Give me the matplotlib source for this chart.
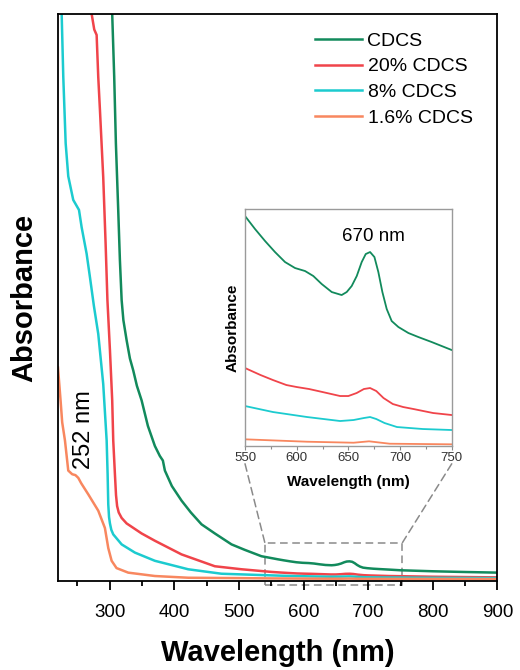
import numpy as np
import matplotlib
matplotlib.use("Agg")
from matplotlib import pyplot as plt
from matplotlib.patches import Rectangle, ConnectionPatch

plt.rcParams['font.family'] = ['Liberation Sans', 'DejaVu Sans']

# absorbance (arbitrary units)
cdcs_wl = [301, 303.9, 307, 309.6, 313.2, 315.8, 318.5, 321.2, 326.2, 331.3, 336.4, 342.1, 349.4, 359.1,
           369.9, 377.6, 382.3, 385.4, 396.2, 411.2, 425.6, 442.1, 462.7, 488.5, 509, 534.8,
           550, 559.7, 569.4, 579, 588.7, 598.4, 608.1, 616.1, 624.2, 633.9, 643.5, 648.4, 653.2, 658.1,
           662.9, 666.8, 671, 675.2, 679, 682.9, 687.1, 691.9, 698.4, 708.1, 717.7, 730.6, 740.3, 750,
           800, 850, 900]
cdcs_abs = [7.0, 6.20, 5.51, 4.78, 4.05, 3.50, 3.06, 2.84, 2.62, 2.42, 2.29, 2.12, 1.96, 1.68,
            1.46, 1.35, 1.30, 1.19, 1.02, 0.86, 0.73, 0.60, 0.50, 0.38, 0.32, 0.25,
            0.230, 0.217, 0.205, 0.194, 0.184, 0.178, 0.175, 0.170, 0.162, 0.154, 0.151, 0.154, 0.160, 0.170,
            0.184, 0.192, 0.194, 0.189, 0.174, 0.154, 0.137, 0.125, 0.119, 0.113, 0.109, 0.104, 0.100, 0.096,
            0.085, 0.077, 0.070]

c20_wl = [270, 272.1, 276.1, 279.8, 282.3, 284.9, 290, 293.7, 296.5, 300.4, 303.9, 305.5, 308.1, 309.8,
          311.5, 314, 318.5, 326.2, 349.4, 369.9, 411.2, 462.7, 504, 550, 565, 577, 590, 600, 612, 625,
          642, 650, 658, 665, 671, 677, 684, 693, 703, 713, 732, 750, 800, 900]
c20_abs = [7.0, 6.20, 6.03, 5.97, 5.51, 5.15, 4.41, 3.68, 3.06, 2.51, 1.96, 1.52, 1.15, 0.92,
           0.80, 0.73, 0.67, 0.61, 0.50, 0.42, 0.27, 0.14, 0.107, 0.078, 0.071, 0.066, 0.061, 0.059, 0.057, 0.054,
           0.050, 0.050, 0.053, 0.057, 0.058, 0.055, 0.048, 0.042, 0.039, 0.037, 0.033, 0.031, 0.025, 0.018]

c8_wl = [224, 225.7, 228.2, 231.9, 235.9, 243.6, 252.5, 256.6, 264.3, 269.5, 275.5, 282.3, 290, 295.3,
         296.8, 297.8, 299, 300.4, 302.5, 305.5, 318.5, 339, 369.9, 421.4, 473, 550, 577, 610, 642, 655,
         665, 671, 677, 685, 697, 722, 750, 800, 900]
c8_abs = [7.0, 6.20, 5.51, 4.78, 4.42, 4.16, 4.05, 3.86, 3.57, 3.31, 3.00, 2.69, 2.14, 1.52,
          1.15, 0.82, 0.68, 0.61, 0.54, 0.49, 0.38, 0.29, 0.20, 0.107, 0.058, 0.040, 0.034, 0.029, 0.025, 0.026,
          0.028, 0.029, 0.027, 0.023, 0.019, 0.017, 0.016, 0.013, 0.010]

c16_wl = [220, 224, 226.5, 230.8, 235.9, 242, 247, 251.4, 256, 266.8, 282.3, 292.6, 297.8, 303, 310.6,
          328.7, 369.9, 421.4, 500, 550, 610, 655, 670, 690, 750, 900]
c16_abs = [2.32, 1.96, 1.72, 1.52, 1.19, 1.15, 1.14, 1.11, 1.05, 0.93, 0.75, 0.56, 0.34, 0.20, 0.12,
           0.07, 0.033, 0.014, 0.010, 0.0067, 0.0043, 0.0033, 0.0047, 0.0023, 0.0017, 0.0]

labels = ["CDCS", "20% CDCS", "8% CDCS", "1.6% CDCS"]
colors = ["#128a5c", "#f0444a", "#1ccbcf", "#f8875f"]
series = [(cdcs_wl, cdcs_abs), (c20_wl, c20_abs), (c8_wl, c8_abs), (c16_wl, c16_abs)]

fig = plt.figure(figsize=(5.2, 6.7), dpi=100)
ax = fig.add_axes((0.1115, 0.1328, 0.8452, 0.8463))
for (wl, a), lab, col in zip(series, labels, colors):
    ax.plot(wl, a, color=col, lw=1.8, label=lab)

ax.set_xlim(220, 900)
ax.set_ylim(-0.022, 6.2)
ax.set_xticks([300, 400, 500, 600, 700, 800, 900])
ax.set_xticks(np.arange(250, 900, 100), minor=True)
ax.set_yticks([])
ax.tick_params(axis='x', which='major', direction='out', length=6.5, width=1.3, labelsize=13.5, pad=10)
ax.tick_params(axis='x', which='minor', direction='out', length=3.3, width=1.3)
for s in ax.spines.values():
    s.set_linewidth(1.3)
ax.set_xlabel("Wavelength (nm)", fontsize=21, fontweight='bold', labelpad=13)
ax.set_ylabel("Absorbance", fontsize=21, fontweight='bold', labelpad=14)

ax.text(260, 1.64, "252 nm", rotation=90, fontsize=17, ha='center', va='center')

ax.legend(loc='upper left', bbox_to_anchor=(315 / 520, 1 - 32 / 670), bbox_transform=fig.transFigure,
          frameon=False, fontsize=14, handlelength=2.4, handletextpad=0.3, labelspacing=0.42,
          borderpad=0, borderaxespad=0)

# zoom box
box = Rectangle((540, -0.066), 213, 0.466, fill=False, ls=(0, (5, 3)), lw=1.1, ec='#8a8a8a', clip_on=False)
ax.add_patch(box)

axins = fig.add_axes((0.4712, 0.3343, 0.3975, 0.3537))
for (wl, a), col in zip(series, colors):
    axins.plot(wl, a, color=col, lw=1.3)
axins.set_xlim(550, 750)
axins.set_ylim(0, 0.237)
axins.set_xticks([550, 600, 650, 700, 750])
axins.set_xticks([575, 625, 675, 725], minor=True)
axins.set_yticks([])
axins.tick_params(axis='x', which='major', direction='out', length=3, width=0.8, color='#8a8a8a',
                  labelsize=9.5, labelcolor='#333333', pad=1.5)
axins.tick_params(axis='x', which='minor', direction='out', length=2, width=0.8, color='#8a8a8a')
for s in axins.spines.values():
    s.set_color('#9a9a9a')
    s.set_linewidth(1.0)
axins.set_xlabel("Wavelength (nm)", fontsize=11, fontweight='bold', labelpad=8)
axins.set_ylabel("Absorbance", fontsize=11, fontweight='bold', labelpad=4)
axins.text(674, 0.210, "670 nm", fontsize=13.5, ha='center', va='center')

for xa, xb in [(0, 540), (1, 753)]:
    con = ConnectionPatch(xyA=(xa, -0.075), coordsA=axins.transAxes, xyB=(xb, 0.40), coordsB=ax.transData,
                          ls=(0, (5, 3)), lw=1.1, color='#8a8a8a')
    fig.add_artist(con)

fig.savefig("out.png", dpi=100)
